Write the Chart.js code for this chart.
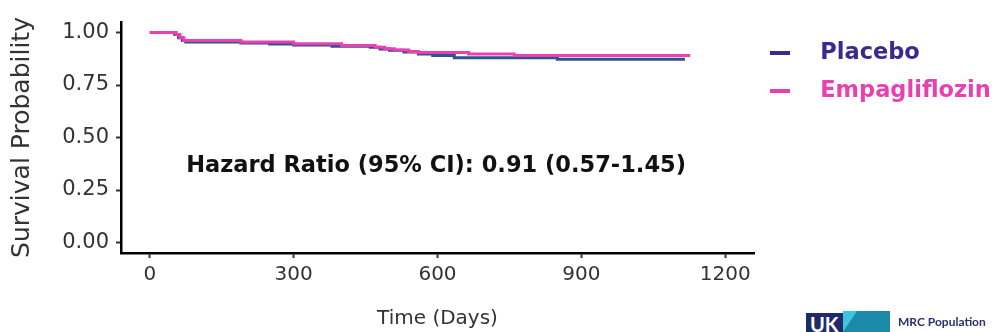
<!DOCTYPE html>
<html>
<head>
<meta charset="utf-8">
<script src="https://cdn.jsdelivr.net/npm/chart.js@4.4.1/dist/chart.umd.min.js"></script>
<style>
  html, body { margin: 0; padding: 0; background: #fff; }
  #wrap { position: relative; width: 996px; height: 332px; overflow: hidden; }
  #logo-uk { position: absolute; left: 806px; top: 313px; width: 37px; height: 19px; background: #1f2a6b; color: #fff;
    font: bold 20px Lato, sans-serif; line-height: 22px; padding-left: 4px; box-sizing: border-box; overflow: hidden; }
  #logo-tri { position: absolute; left: 843px; top: 311px; width: 47px; height: 21px; background: #1a8aa8; }
  #logo-tri2 { position: absolute; left: 843px; top: 311px; width: 0; height: 0;
    border-left: 14px solid #3cc6de; border-bottom: 21px solid transparent; }
  #logo-txt { position: absolute; left: 898px; top: 314px; font: bold 12px Lato, sans-serif; color: #2b2f6b; }
</style>
</head>
<body>
<div id="wrap">
  <canvas id="myChart" width="996" height="332"></canvas>
  <div id="logo-uk">UK</div>
  <div id="logo-tri"></div>
  <div id="logo-tri2"></div>
  <div id="logo-txt">MRC Population</div>
</div>
<script>
// Kaplan-Meier steps (day, survival)
const placeboDays = [0, 45, 52, 60, 68, 75, 190, 250, 300, 380, 460, 480, 500, 530, 560, 590, 635, 850, 1116];
const placeboSurv = [1.0, 1.0, 0.99, 0.975, 0.962, 0.955, 0.95, 0.945, 0.94, 0.935, 0.93, 0.922, 0.915, 0.907, 0.898, 0.89, 0.88, 0.873, 0.873];
const empaDays = [0, 48, 55, 63, 71, 190, 300, 400, 470, 490, 510, 540, 560, 665, 760, 1127];
const empaSurv = [1.0, 1.0, 0.99, 0.975, 0.962, 0.955, 0.946, 0.938, 0.93, 0.923, 0.917, 0.91, 0.905, 0.898, 0.89, 0.89];

const seriesNames = ["Placebo", "Empagliflozin"];
const lineColors = ["#2b558c", "#ec3fb2"];
const legendColors = ["#3b2a8c", "#e93fb0"];
const yTicks = [0, 0.25, 0.5, 0.75, 1.0];
const xTicks = [0, 300, 600, 900, 1200];

const hrText = "Hazard Ratio (95% CI): 0.91 (0.57-1.45)";
const hrAt = {day: 597, surv: 0.365};

const font = "'DejaVu Sans', sans-serif";
const ink = "#333333";

function toPoints(days, surv) {
    return days.map((d, i) => ({x: d, y: surv[i]}));
}

// short bar marker with empty space after it, so the text sits further right
function makeMarker(color) {
    const c = document.createElement("canvas");
    c.width = 39;
    c.height = 4;
    const g = c.getContext("2d");
    g.fillStyle = color;
    g.fillRect(0, 0, 20, 4);
    return c;
}
const markers = legendColors.map(makeMarker);

const hrPlugin = {
    id: "hrText",
    afterDatasetsDraw(chart) {
        const {ctx, scales} = chart;
        ctx.save();
        ctx.font = "bold 22.5px " + font;
        ctx.fillStyle = "#111";
        ctx.textAlign = "center";
        ctx.textBaseline = "middle";
        ctx.fillText(hrText, scales.x.getPixelForValue(hrAt.day), scales.y.getPixelForValue(hrAt.surv));
        ctx.restore();
    }
};

const ctx = document.getElementById("myChart");
new Chart(ctx, {
    type: "line",
    data: {
        datasets: [{
            label: seriesNames[0],
            data: toPoints(placeboDays, placeboSurv),
            borderColor: lineColors[0],
            borderWidth: 3,
            stepped: true,
            pointRadius: 0,
            order: 1
        }, {
            label: seriesNames[1],
            data: toPoints(empaDays, empaSurv),
            borderColor: lineColors[1],
            borderWidth: 3,
            stepped: true,
            pointRadius: 0,
            order: 0
        }]
    },
    options: {
        responsive: false,
        animation: false,
        layout: {padding: {left: 0, right: 0, top: 22, bottom: 0}},
        plugins: {
            tooltip: {enabled: false},
            legend: {
                position: "right",
                align: "start",
                maxWidth: 242,
                title: {display: true, text: " ", font: {size: 3}, padding: {top: 0, bottom: 0}},
                labels: {
                    usePointStyle: true,
                    pointStyleWidth: 39,
                    padding: 16,
                    font: {family: font, size: 22.5, weight: "bold"},
                    generateLabels: (chart) => chart.data.datasets.map((ds, i) => ({
                        text: ds.label,
                        fillStyle: legendColors[i],
                        strokeStyle: legendColors[i],
                        lineWidth: 0,
                        pointStyle: markers[i],
                        fontColor: legendColors[i],
                        hidden: false,
                        datasetIndex: i
                    }))
                }
            }
        },
        scales: {
            x: {
                type: "linear",
                min: -60,
                max: 1260,
                afterFit: (s) => { s.height = 79; },
                afterBuildTicks: (s) => { s.ticks = xTicks.map(v => ({value: v})); },
                border: {color: "#000", width: 2.5},
                grid: {display: true, drawOnChartArea: false, drawTicks: true, tickLength: 5, tickWidth: 2, color: "#333"},
                ticks: {color: ink, padding: 5, font: {family: font, size: 20}, maxRotation: 0, callback: (v) => String(v)},
                title: {display: true, text: "Time (Days)", color: ink, font: {family: font, size: 20}, padding: {top: 4, bottom: 1}}
            },
            y: {
                min: -0.05,
                max: 1.05,
                afterFit: (s) => { s.width = 121; },
                afterBuildTicks: (s) => { s.ticks = yTicks.map(v => ({value: v})); },
                border: {color: "#000", width: 2.5},
                grid: {display: true, drawOnChartArea: false, drawTicks: true, tickLength: 5, tickWidth: 2, color: "#333"},
                ticks: {color: ink, padding: 7, font: {family: font, size: 21}, callback: (v) => v.toFixed(2)},
                title: {display: true, text: "Survival Probability", color: ink, font: {family: font, size: 25}, padding: {top: 7, bottom: 4}}
            }
        }
    },
    plugins: [hrPlugin]
});
</script>
</body>
</html>
